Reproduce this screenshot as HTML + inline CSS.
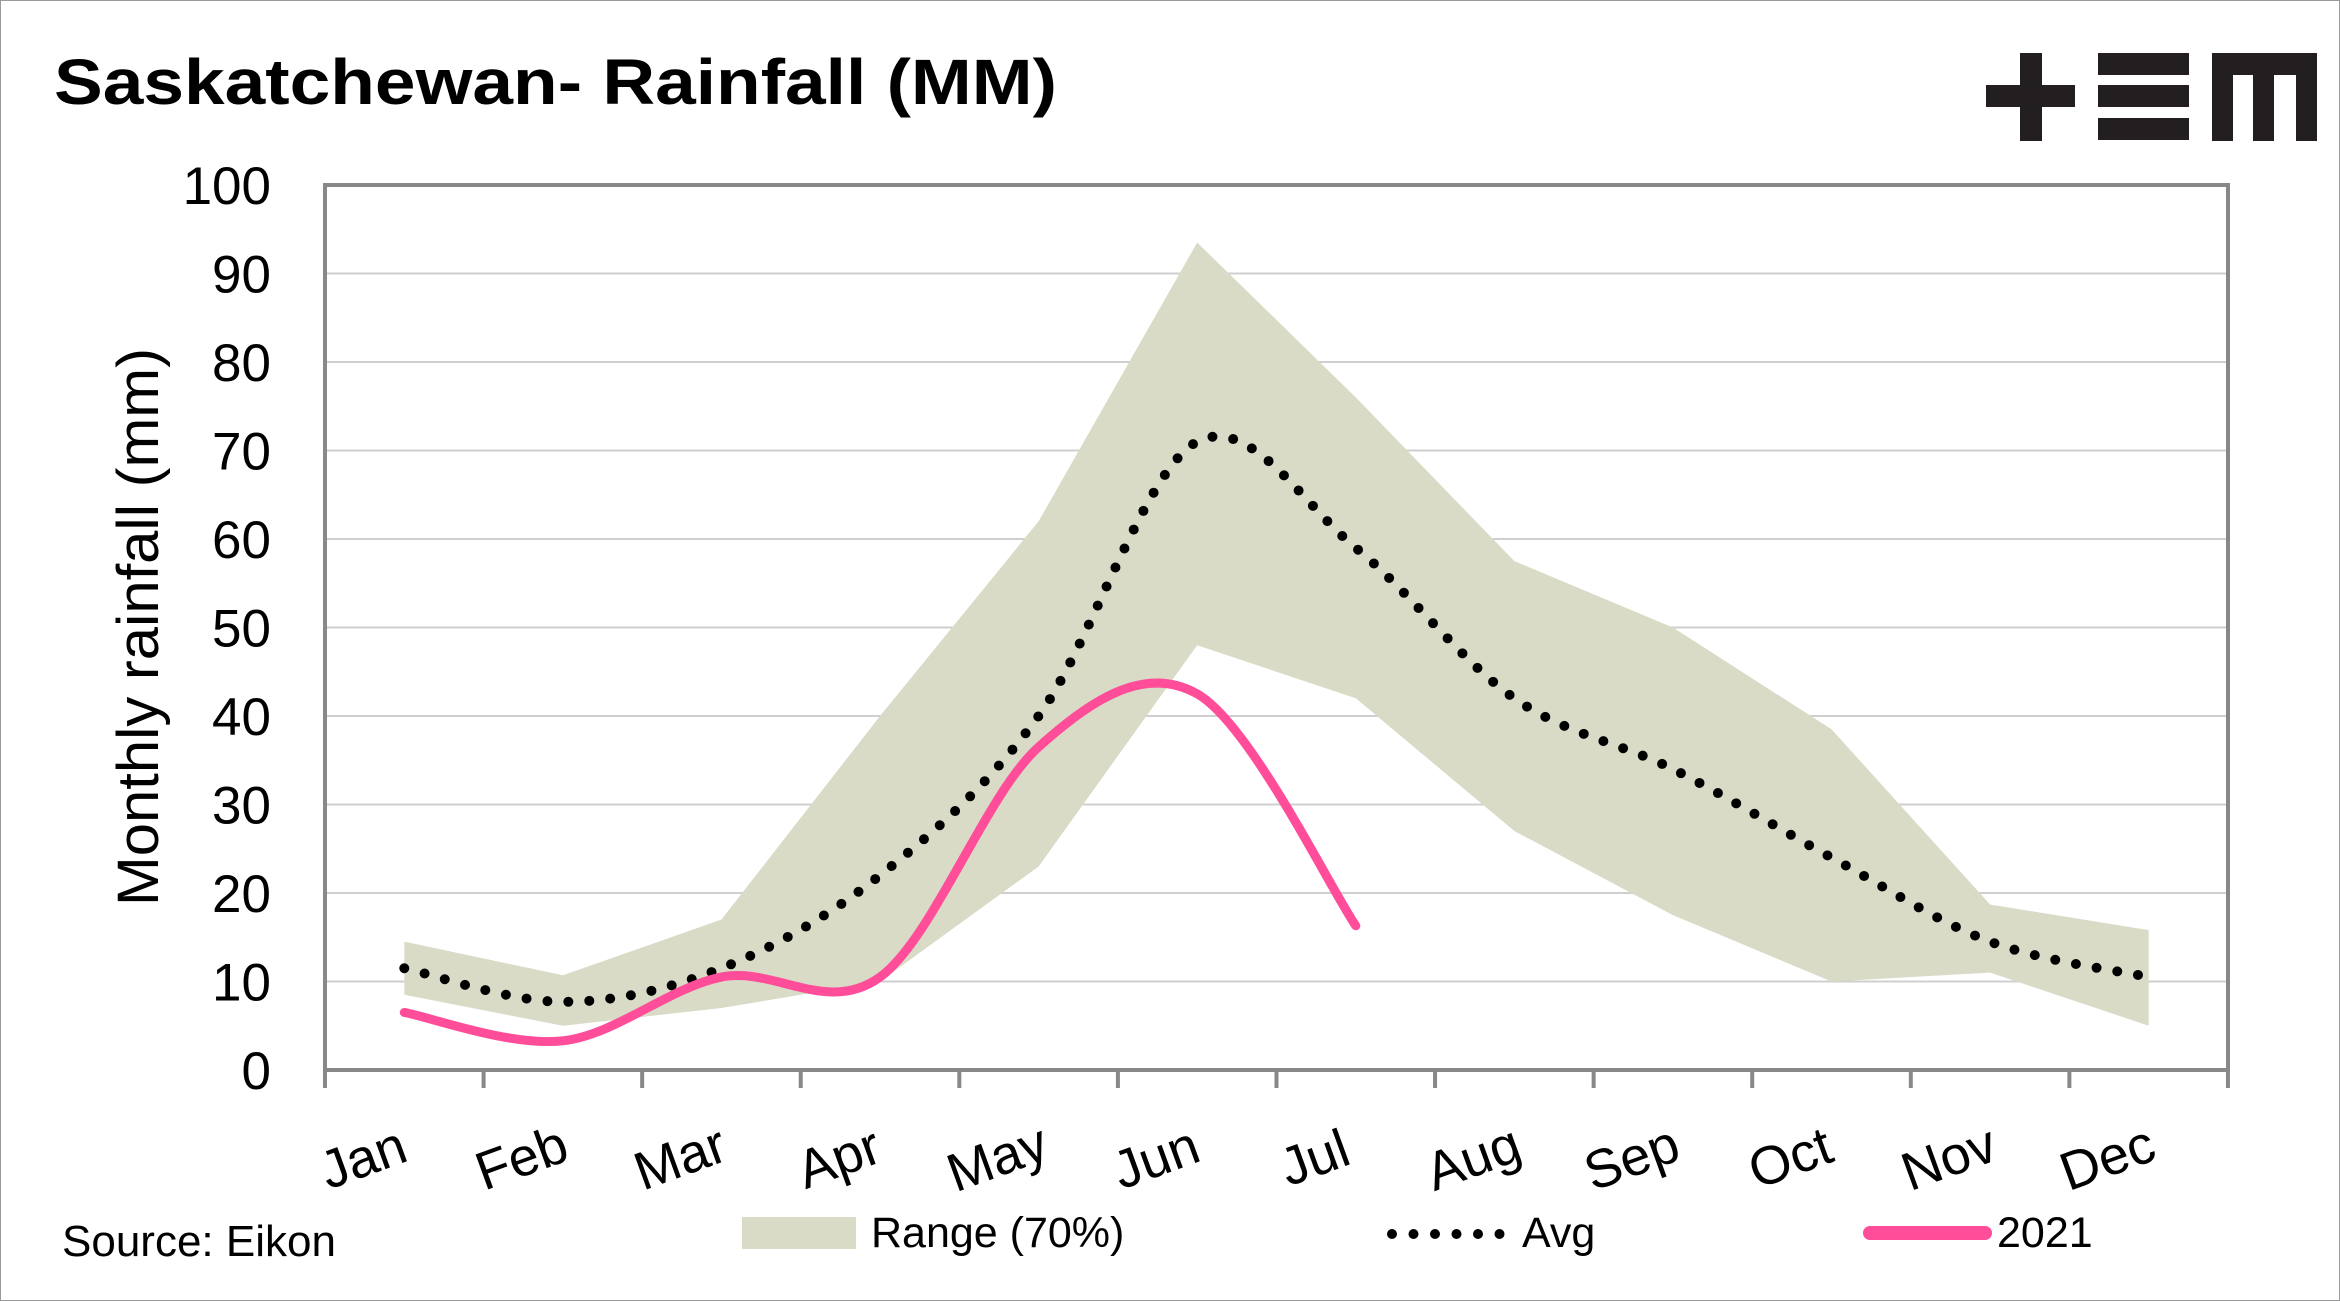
<!DOCTYPE html>
<html><head><meta charset="utf-8"><style>
html,body{margin:0;padding:0;background:#fff}
svg{display:block}
text{font-family:"Liberation Sans",sans-serif;fill:#000}
</style></head><body>
<svg id="s" width="2340" height="1301" viewBox="0 0 2340 1301" xmlns="http://www.w3.org/2000/svg">
<rect x="0.5" y="0.5" width="2339" height="1300" fill="#fff" stroke="#9a9a9a" stroke-width="1"/>
<text x="54" y="104" font-size="64" font-weight="bold" textLength="1003" lengthAdjust="spacingAndGlyphs">Saskatchewan- Rainfall (MM)</text>
<g fill="#231f20">
<rect x="1986" y="85" width="89" height="22"/><rect x="2020" y="53" width="22" height="88"/>
<rect x="2098" y="53" width="91" height="22"/><rect x="2098" y="85" width="91" height="22"/><rect x="2098" y="118" width="91" height="22"/>
<rect x="2212" y="53" width="105" height="22"/><rect x="2212" y="53" width="21" height="88"/><rect x="2253" y="53" width="21" height="88"/><rect x="2296" y="53" width="21" height="88"/>
</g>
<g id="grid" stroke="#cfcfcf" stroke-width="2"></g>
<path id="band" fill="#d9dbc6"/>
<path id="avg" fill="none" stroke="#000" stroke-width="10" stroke-linecap="round" stroke-dasharray="0 21"/>
<path id="p21" fill="none" stroke="#ff4d9a" stroke-width="9" stroke-linecap="round"/>
<rect x="325" y="185" width="1903" height="885" fill="none" stroke="#888" stroke-width="4"/>
<g id="ticks" stroke="#888" stroke-width="4"></g>
<g id="ylab" font-size="53" text-anchor="end"></g>
<g id="xlab" font-size="54" text-anchor="middle"></g>
<text transform="translate(158,627) rotate(-90)" font-size="58" text-anchor="middle" textLength="558" lengthAdjust="spacingAndGlyphs">Monthly rainfall (mm)</text>
<text x="62" y="1256" font-size="44">Source: Eikon</text>
<rect x="742" y="1217" width="114" height="32" fill="#d9dbc6"/>
<text x="871" y="1247" font-size="43">Range (70%)</text>
<path d="M1392 1234 H1500" stroke="#000" stroke-width="10" stroke-linecap="round" stroke-dasharray="0 21.5"/>
<text x="1522" y="1247" font-size="43">Avg</text>
<path d="M1870 1233 H1985" stroke="#ff4d9a" stroke-width="14" stroke-linecap="round"/>
<text x="1997" y="1247" font-size="43">2021</text>
</svg>
<script>
var NS="http://www.w3.org/2000/svg";
function X(i){return 325+158.58*(i+0.5);}
function Y(v){return 1070-8.85*v;}
function el(p,t,a,txt){var e=document.createElementNS(NS,t);for(var k in a)e.setAttribute(k,a[k]);if(txt!==undefined)e.textContent=txt;document.getElementById(p).appendChild(e);}
for(var v=10;v<=90;v+=10)el("grid","line",{x1:325,x2:2228,y1:Y(v),y2:Y(v)});
for(var v=0;v<=100;v+=10)el("ylab","text",{x:271,y:Y(v)+19},String(v));
for(var i=0;i<=12;i++){var x=325+158.58*i;el("ticks","line",{x1:x,x2:x,y1:1070,y2:1088});}
var m=["Jan","Feb","Mar","Apr","May","Jun","Jul","Aug","Sep","Oct","Nov","Dec"];
for(var i=0;i<12;i++){var x=X(i)-35,y=1175;el("xlab","text",{x:0,y:0,transform:"translate("+x+","+y+") rotate(-20)"},m[i]);}
var up=[14.5,10.7,17,40,62,93.5,76,57.5,50,38.5,18.7,15.8];
var lo=[8.5,5,7,10,23,48,42,27,17.5,10,11,5];
var d="M"+X(0)+","+Y(up[0]);
for(var i=1;i<12;i++)d+=" L"+X(i)+","+Y(up[i]);
for(var i=11;i>=0;i--)d+=" L"+X(i)+","+Y(lo[i]);
document.getElementById("band").setAttribute("d",d+"Z");
function smooth(pts){var d="M"+pts[0][0]+","+pts[0][1];
for(var i=0;i<pts.length-1;i++){var p0=pts[Math.max(i-1,0)],p1=pts[i],p2=pts[i+1],p3=pts[Math.min(i+2,pts.length-1)];
var c1x=p1[0]+(p2[0]-p0[0])/6,c1y=p1[1]+(p2[1]-p0[1])/6,c2x=p2[0]-(p3[0]-p1[0])/6,c2y=p2[1]-(p3[1]-p1[1])/6;
d+=" C"+c1x+","+c1y+" "+c2x+","+c2y+" "+p2[0]+","+p2[1];}return d;}
var avg=[11.5,7.7,11.5,22,40,71,59,42,34,24,14.5,10.5];
document.getElementById("avg").setAttribute("d",smooth(avg.map(function(v,i){return[X(i),Y(v)];})));
var r=[6.5,3.3,10.5,10.5,36.5,42.5,16.3];
document.getElementById("p21").setAttribute("d",smooth(r.map(function(v,i){return[X(i),Y(v)];})));
</script>
</body></html>
